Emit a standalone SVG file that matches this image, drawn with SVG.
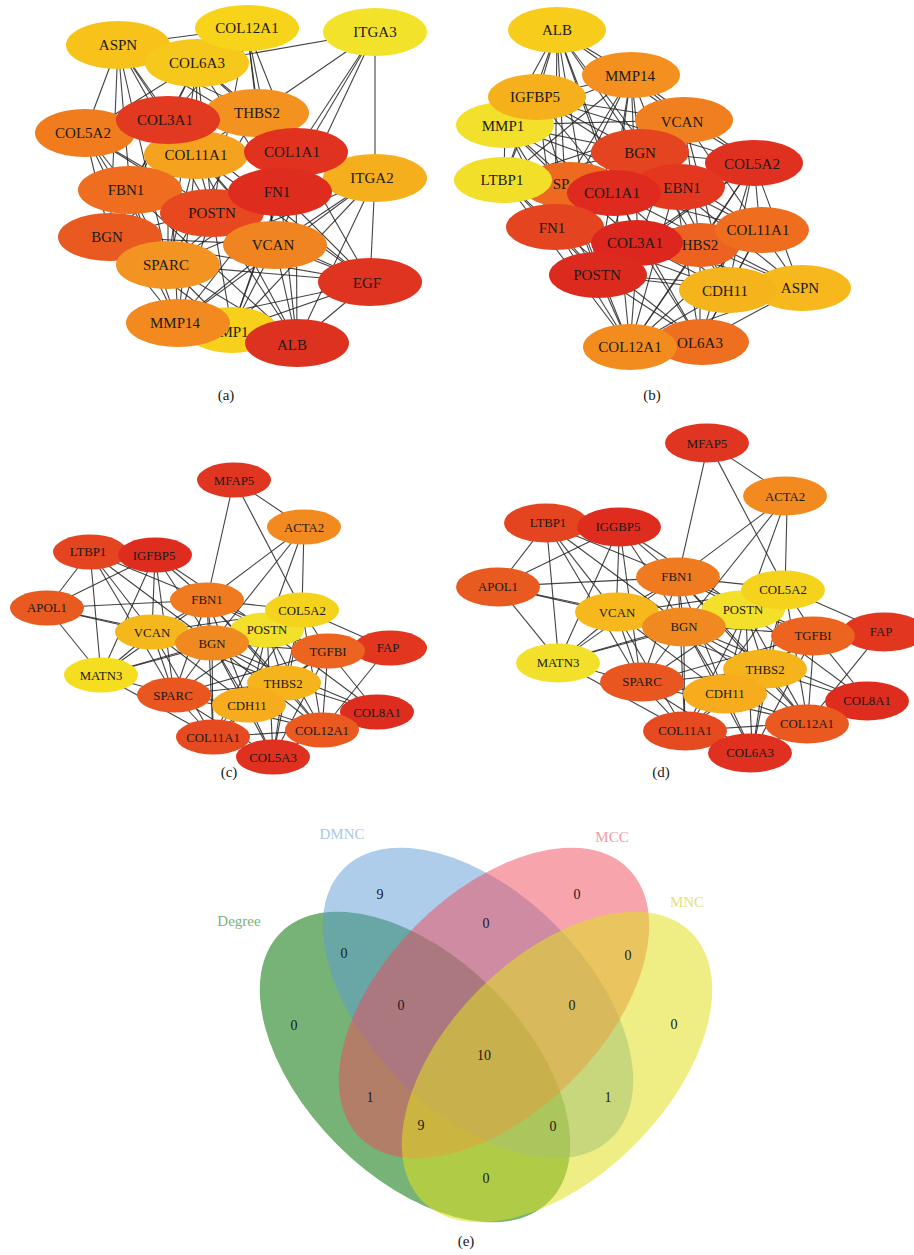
<svg xmlns="http://www.w3.org/2000/svg" xmlns:xlink="http://www.w3.org/1999/xlink" width="914" height="1255" viewBox="0 0 914 1255">
<style>
.ed line{stroke:#222;stroke-width:1.1;stroke-opacity:0.85;vector-effect:non-scaling-stroke}
.nd text{font-family:"Liberation Serif","Times New Roman",serif;font-size:15px;text-anchor:middle;dominant-baseline:central;fill:#1a1a1a}
.sm text{font-size:12.8px}
.lbl{font-family:"Liberation Serif","Times New Roman",serif;font-size:15px;text-anchor:middle;dominant-baseline:central;fill:#1a1a1a}
.vn{font-family:"Liberation Serif","Times New Roman",serif;font-size:14px;text-anchor:middle;dominant-baseline:central;fill:#1a1a1a}
.vl{font-family:"Liberation Serif","Times New Roman",serif;font-size:15px;text-anchor:middle;dominant-baseline:central}
</style>
<rect width="914" height="1255" fill="#ffffff"/>

<!-- ================= CONNECTORS ================= -->
<g id="connectors" class="ed">
<g id="edges-a">
<line x1="118" y1="45" x2="247" y2="28"/><line x1="118" y1="45" x2="85" y2="133"/><line x1="118" y1="45" x2="168" y2="120"/><line x1="118" y1="45" x2="196" y2="155"/><line x1="118" y1="45" x2="130" y2="190"/><line x1="118" y1="45" x2="212" y2="213"/><line x1="118" y1="45" x2="257" y2="113"/><line x1="118" y1="45" x2="296" y2="152"/><line x1="118" y1="45" x2="110" y2="237"/><line x1="118" y1="45" x2="168" y2="265"/>
<line x1="197" y1="63" x2="375" y2="32"/><line x1="247" y1="28" x2="257" y2="113"/><line x1="247" y1="28" x2="296" y2="152"/><line x1="247" y1="28" x2="280" y2="192"/><line x1="247" y1="28" x2="275" y2="245"/><line x1="247" y1="28" x2="212" y2="213"/><line x1="247" y1="28" x2="168" y2="120"/>
<line x1="375" y1="32" x2="257" y2="113"/><line x1="375" y1="32" x2="296" y2="152"/><line x1="375" y1="32" x2="280" y2="192"/><line x1="375" y1="32" x2="375" y2="178"/><line x1="375" y1="32" x2="275" y2="245"/>
<line x1="197" y1="63" x2="257" y2="113"/><line x1="197" y1="63" x2="196" y2="155"/><line x1="197" y1="63" x2="130" y2="190"/><line x1="197" y1="63" x2="212" y2="213"/><line x1="197" y1="63" x2="85" y2="133"/><line x1="197" y1="63" x2="110" y2="237"/><line x1="197" y1="63" x2="168" y2="265"/><line x1="197" y1="63" x2="280" y2="192"/><line x1="197" y1="63" x2="296" y2="152"/>
<line x1="85" y1="133" x2="130" y2="190"/><line x1="85" y1="133" x2="110" y2="237"/><line x1="85" y1="133" x2="212" y2="213"/><line x1="85" y1="133" x2="168" y2="265"/><line x1="85" y1="133" x2="178" y2="323"/><line x1="85" y1="133" x2="275" y2="245"/>
<line x1="196" y1="155" x2="212" y2="213"/><line x1="196" y1="155" x2="168" y2="265"/><line x1="196" y1="155" x2="275" y2="245"/><line x1="196" y1="155" x2="110" y2="237"/><line x1="196" y1="155" x2="178" y2="323"/>
<line x1="296" y1="152" x2="375" y2="178"/><line x1="296" y1="152" x2="370" y2="282"/><line x1="296" y1="152" x2="297" y2="343"/><line x1="296" y1="152" x2="168" y2="265"/><line x1="296" y1="152" x2="232" y2="330"/>
<line x1="375" y1="178" x2="370" y2="282"/><line x1="375" y1="178" x2="275" y2="245"/><line x1="375" y1="178" x2="297" y2="343"/><line x1="375" y1="178" x2="168" y2="265"/><line x1="375" y1="178" x2="178" y2="323"/><line x1="375" y1="178" x2="232" y2="330"/>
<line x1="130" y1="190" x2="212" y2="213"/><line x1="130" y1="190" x2="168" y2="265"/><line x1="130" y1="190" x2="275" y2="245"/><line x1="130" y1="190" x2="178" y2="323"/><line x1="130" y1="190" x2="297" y2="343"/>
<line x1="280" y1="192" x2="370" y2="282"/><line x1="280" y1="192" x2="297" y2="343"/><line x1="280" y1="192" x2="232" y2="330"/><line x1="280" y1="192" x2="168" y2="265"/><line x1="280" y1="192" x2="178" y2="323"/><line x1="280" y1="192" x2="110" y2="237"/>
<line x1="212" y1="213" x2="275" y2="245"/><line x1="212" y1="213" x2="178" y2="323"/><line x1="212" y1="213" x2="232" y2="330"/><line x1="212" y1="213" x2="297" y2="343"/><line x1="212" y1="213" x2="370" y2="282"/>
<line x1="110" y1="237" x2="168" y2="265"/><line x1="110" y1="237" x2="178" y2="323"/><line x1="110" y1="237" x2="275" y2="245"/><line x1="110" y1="237" x2="232" y2="330"/><line x1="110" y1="237" x2="370" y2="282"/>
<line x1="275" y1="245" x2="370" y2="282"/><line x1="275" y1="245" x2="178" y2="323"/><line x1="275" y1="245" x2="297" y2="343"/><line x1="275" y1="245" x2="232" y2="330"/>
<line x1="168" y1="265" x2="370" y2="282"/><line x1="168" y1="265" x2="232" y2="330"/><line x1="168" y1="265" x2="297" y2="343"/>
<line x1="370" y1="282" x2="178" y2="323"/><line x1="370" y1="282" x2="297" y2="343"/><line x1="370" y1="282" x2="232" y2="330"/>
<line x1="168" y1="120" x2="370" y2="282"/><line x1="168" y1="120" x2="275" y2="245"/><line x1="168" y1="120" x2="168" y2="265"/><line x1="168" y1="120" x2="178" y2="323"/><line x1="257" y1="113" x2="275" y2="245"/><line x1="257" y1="113" x2="168" y2="265"/><line x1="196" y1="155" x2="297" y2="343"/><line x1="168" y1="120" x2="130" y2="190"/><line x1="257" y1="113" x2="130" y2="190"/><line x1="296" y1="152" x2="212" y2="213"/><line x1="196" y1="155" x2="370" y2="282"/><line x1="212" y1="213" x2="375" y2="178"/>
</g>
<g id="edges-b">
<line x1="557" y1="30" x2="537" y2="97"/><line x1="557" y1="30" x2="505" y2="125"/><line x1="557" y1="30" x2="504" y2="180"/><line x1="557" y1="30" x2="640" y2="152"/><line x1="557" y1="30" x2="565" y2="185"/><line x1="557" y1="30" x2="615" y2="193"/><line x1="557" y1="30" x2="555" y2="227"/><line x1="557" y1="30" x2="684" y2="120"/><line x1="557" y1="30" x2="631" y2="75"/><line x1="557" y1="30" x2="598" y2="275"/><line x1="557" y1="30" x2="638" y2="243"/><line x1="557" y1="30" x2="675" y2="187"/>
<line x1="631" y1="75" x2="537" y2="97"/><line x1="631" y1="75" x2="505" y2="125"/><line x1="631" y1="75" x2="504" y2="180"/><line x1="631" y1="75" x2="640" y2="152"/><line x1="631" y1="75" x2="684" y2="120"/><line x1="631" y1="75" x2="615" y2="193"/><line x1="631" y1="75" x2="555" y2="227"/><line x1="631" y1="75" x2="638" y2="243"/><line x1="631" y1="75" x2="598" y2="275"/><line x1="631" y1="75" x2="565" y2="185"/><line x1="631" y1="75" x2="754" y2="163"/><line x1="631" y1="75" x2="675" y2="187"/>
<line x1="537" y1="97" x2="684" y2="120"/><line x1="537" y1="97" x2="640" y2="152"/><line x1="537" y1="97" x2="504" y2="180"/><line x1="537" y1="97" x2="565" y2="185"/><line x1="537" y1="97" x2="615" y2="193"/><line x1="537" y1="97" x2="555" y2="227"/><line x1="537" y1="97" x2="675" y2="187"/><line x1="537" y1="97" x2="754" y2="163"/>
<line x1="505" y1="125" x2="684" y2="120"/><line x1="505" y1="125" x2="640" y2="152"/><line x1="505" y1="125" x2="504" y2="180"/><line x1="505" y1="125" x2="555" y2="227"/><line x1="505" y1="125" x2="615" y2="193"/><line x1="505" y1="125" x2="565" y2="185"/><line x1="505" y1="125" x2="598" y2="275"/><line x1="505" y1="125" x2="638" y2="243"/><line x1="505" y1="125" x2="675" y2="187"/>
<line x1="684" y1="120" x2="640" y2="152"/><line x1="684" y1="120" x2="754" y2="163"/><line x1="684" y1="120" x2="504" y2="180"/><line x1="684" y1="120" x2="675" y2="187"/><line x1="684" y1="120" x2="760" y2="230"/><line x1="684" y1="120" x2="728" y2="290"/><line x1="684" y1="120" x2="555" y2="227"/><line x1="684" y1="120" x2="638" y2="243"/><line x1="684" y1="120" x2="700" y2="245"/>
<line x1="640" y1="152" x2="504" y2="180"/><line x1="640" y1="152" x2="754" y2="163"/><line x1="640" y1="152" x2="555" y2="227"/><line x1="640" y1="152" x2="760" y2="230"/><line x1="640" y1="152" x2="728" y2="290"/><line x1="640" y1="152" x2="598" y2="275"/>
<line x1="754" y1="163" x2="760" y2="230"/><line x1="754" y1="163" x2="728" y2="290"/><line x1="754" y1="163" x2="800" y2="288"/><line x1="754" y1="163" x2="700" y2="245"/><line x1="754" y1="163" x2="638" y2="243"/><line x1="754" y1="163" x2="598" y2="275"/><line x1="754" y1="163" x2="700" y2="342"/><line x1="754" y1="163" x2="630" y2="347"/><line x1="754" y1="163" x2="615" y2="193"/>
<line x1="504" y1="180" x2="555" y2="227"/><line x1="504" y1="180" x2="615" y2="193"/><line x1="504" y1="180" x2="598" y2="275"/><line x1="504" y1="180" x2="638" y2="243"/><line x1="504" y1="180" x2="675" y2="187"/><line x1="504" y1="180" x2="630" y2="347"/>
<line x1="615" y1="193" x2="760" y2="230"/><line x1="615" y1="193" x2="728" y2="290"/><line x1="615" y1="193" x2="630" y2="347"/><line x1="615" y1="193" x2="700" y2="342"/><line x1="615" y1="193" x2="800" y2="288"/>
<line x1="675" y1="187" x2="760" y2="230"/><line x1="675" y1="187" x2="728" y2="290"/><line x1="675" y1="187" x2="800" y2="288"/><line x1="675" y1="187" x2="630" y2="347"/><line x1="675" y1="187" x2="700" y2="342"/><line x1="675" y1="187" x2="555" y2="227"/>
<line x1="555" y1="227" x2="598" y2="275"/><line x1="555" y1="227" x2="630" y2="347"/><line x1="555" y1="227" x2="700" y2="342"/><line x1="555" y1="227" x2="728" y2="290"/><line x1="555" y1="227" x2="760" y2="230"/>
<line x1="638" y1="243" x2="630" y2="347"/><line x1="638" y1="243" x2="700" y2="342"/><line x1="638" y1="243" x2="728" y2="290"/><line x1="638" y1="243" x2="800" y2="288"/><line x1="638" y1="243" x2="760" y2="230"/>
<line x1="700" y1="245" x2="630" y2="347"/><line x1="700" y1="245" x2="700" y2="342"/><line x1="700" y1="245" x2="800" y2="288"/>
<line x1="760" y1="230" x2="728" y2="290"/><line x1="760" y1="230" x2="800" y2="288"/><line x1="760" y1="230" x2="630" y2="347"/><line x1="760" y1="230" x2="700" y2="342"/><line x1="760" y1="230" x2="598" y2="275"/>
<line x1="598" y1="275" x2="630" y2="347"/><line x1="598" y1="275" x2="700" y2="342"/><line x1="598" y1="275" x2="728" y2="290"/><line x1="598" y1="275" x2="800" y2="288"/>
<line x1="728" y1="290" x2="630" y2="347"/><line x1="728" y1="290" x2="700" y2="342"/><line x1="800" y1="288" x2="700" y2="342"/><line x1="800" y1="288" x2="630" y2="347"/><line x1="630" y1="347" x2="700" y2="342"/>
<line x1="565" y1="185" x2="598" y2="275"/><line x1="565" y1="185" x2="630" y2="347"/><line x1="565" y1="185" x2="555" y2="227"/>
</g>
<g id="edges-c">
<line x1="234" y1="480" x2="304" y2="527"/><line x1="234" y1="480" x2="207" y2="600"/><line x1="234" y1="480" x2="302" y2="610"/>
<line x1="304" y1="527" x2="207" y2="600"/><line x1="304" y1="527" x2="302" y2="610"/><line x1="304" y1="527" x2="267" y2="630"/><line x1="304" y1="527" x2="212" y2="643"/>
<line x1="90" y1="552" x2="155" y2="555"/><line x1="90" y1="552" x2="47" y2="608"/><line x1="90" y1="552" x2="101" y2="675"/><line x1="90" y1="552" x2="152" y2="632"/><line x1="90" y1="552" x2="207" y2="600"/><line x1="90" y1="552" x2="212" y2="643"/><line x1="90" y1="552" x2="174" y2="695"/>
<line x1="155" y1="555" x2="47" y2="608"/><line x1="155" y1="555" x2="101" y2="675"/><line x1="155" y1="555" x2="152" y2="632"/><line x1="155" y1="555" x2="207" y2="600"/><line x1="155" y1="555" x2="212" y2="643"/><line x1="155" y1="555" x2="174" y2="695"/><line x1="155" y1="555" x2="267" y2="630"/>
<line x1="47" y1="608" x2="207" y2="600"/><line x1="47" y1="608" x2="152" y2="632"/><line x1="47" y1="608" x2="101" y2="675"/><line x1="47" y1="608" x2="212" y2="643"/>
<line x1="207" y1="600" x2="302" y2="610"/><line x1="207" y1="600" x2="267" y2="630"/><line x1="207" y1="600" x2="212" y2="643"/><line x1="207" y1="600" x2="152" y2="632"/><line x1="207" y1="600" x2="174" y2="695"/><line x1="207" y1="600" x2="284" y2="683"/><line x1="207" y1="600" x2="249" y2="705"/><line x1="207" y1="600" x2="213" y2="737"/><line x1="207" y1="600" x2="322" y2="730"/><line x1="207" y1="600" x2="328" y2="651"/><line x1="207" y1="600" x2="101" y2="675"/>
<line x1="302" y1="610" x2="388" y2="648"/><line x1="302" y1="610" x2="328" y2="651"/><line x1="302" y1="610" x2="284" y2="683"/><line x1="302" y1="610" x2="322" y2="730"/><line x1="302" y1="610" x2="213" y2="737"/><line x1="302" y1="610" x2="273" y2="757"/><line x1="302" y1="610" x2="152" y2="632"/><line x1="302" y1="610" x2="212" y2="643"/>
<line x1="267" y1="630" x2="152" y2="632"/><line x1="267" y1="630" x2="212" y2="643"/><line x1="267" y1="630" x2="328" y2="651"/><line x1="267" y1="630" x2="284" y2="683"/><line x1="267" y1="630" x2="249" y2="705"/><line x1="267" y1="630" x2="213" y2="737"/><line x1="267" y1="630" x2="322" y2="730"/><line x1="267" y1="630" x2="273" y2="757"/><line x1="267" y1="630" x2="174" y2="695"/><line x1="267" y1="630" x2="101" y2="675"/><line x1="267" y1="630" x2="377" y2="712"/>
<line x1="152" y1="632" x2="212" y2="643"/><line x1="152" y1="632" x2="101" y2="675"/><line x1="152" y1="632" x2="174" y2="695"/><line x1="152" y1="632" x2="213" y2="737"/><line x1="152" y1="632" x2="249" y2="705"/><line x1="152" y1="632" x2="284" y2="683"/>
<line x1="212" y1="643" x2="101" y2="675"/><line x1="212" y1="643" x2="174" y2="695"/><line x1="212" y1="643" x2="249" y2="705"/><line x1="212" y1="643" x2="284" y2="683"/><line x1="212" y1="643" x2="328" y2="651"/><line x1="212" y1="643" x2="213" y2="737"/><line x1="212" y1="643" x2="322" y2="730"/><line x1="212" y1="643" x2="273" y2="757"/><line x1="212" y1="643" x2="377" y2="712"/>
<line x1="328" y1="651" x2="388" y2="648"/><line x1="328" y1="651" x2="284" y2="683"/><line x1="328" y1="651" x2="322" y2="730"/><line x1="328" y1="651" x2="377" y2="712"/><line x1="328" y1="651" x2="273" y2="757"/><line x1="328" y1="651" x2="174" y2="695"/><line x1="328" y1="651" x2="249" y2="705"/>
<line x1="388" y1="648" x2="322" y2="730"/><line x1="101" y1="675" x2="174" y2="695"/><line x1="101" y1="675" x2="213" y2="737"/>
<line x1="284" y1="683" x2="249" y2="705"/><line x1="284" y1="683" x2="174" y2="695"/><line x1="284" y1="683" x2="213" y2="737"/><line x1="284" y1="683" x2="322" y2="730"/><line x1="284" y1="683" x2="273" y2="757"/><line x1="284" y1="683" x2="377" y2="712"/>
<line x1="174" y1="695" x2="249" y2="705"/><line x1="174" y1="695" x2="213" y2="737"/><line x1="174" y1="695" x2="273" y2="757"/><line x1="174" y1="695" x2="322" y2="730"/>
<line x1="249" y1="705" x2="213" y2="737"/><line x1="249" y1="705" x2="322" y2="730"/><line x1="249" y1="705" x2="273" y2="757"/>
<line x1="213" y1="737" x2="322" y2="730"/><line x1="213" y1="737" x2="273" y2="757"/><line x1="322" y1="730" x2="273" y2="757"/><line x1="322" y1="730" x2="377" y2="712"/>
</g>
<g id="edges-d">
<use xlink:href="#edges-c" href="#edges-c" transform="matrix(1.126 0 0 1.119 445 -94)"/>
</g>
</g>

<!-- ================= PANEL A NODES ================= -->
<g id="panel-a" class="nd">
<g id="a-ASPN"><ellipse cx="118" cy="45" rx="52" ry="24" fill="#f7c21a"/><text x="118" y="45">ASPN</text></g>
<g id="a-COL6A3"><ellipse cx="197" cy="63" rx="52" ry="24" fill="#f7c81c"/><text x="197" y="63">COL6A3</text></g>
<g id="a-COL12A1"><ellipse cx="247" cy="28" rx="52" ry="23" fill="#f7d41a"/><text x="247" y="28">COL12A1</text></g>
<g id="a-ITGA3"><ellipse cx="375" cy="32" rx="52" ry="24" fill="#f2e22a"/><text x="375" y="32">ITGA3</text></g>
<g id="a-THBS2"><ellipse cx="257" cy="113" rx="52" ry="24" fill="#f3921f"/><text x="257" y="113">THBS2</text></g>
<g id="a-COL5A2"><ellipse cx="85" cy="133" rx="50" ry="24" fill="#f07c1e"/><text x="83" y="133">COL5A2</text></g>
<g id="a-COL11A1"><ellipse cx="196" cy="155" rx="52" ry="24" fill="#f5a21e"/><text x="196" y="155">COL11A1</text></g>
<g id="a-COL3A1"><ellipse cx="168" cy="120" rx="52" ry="24" fill="#e23a20"/><text x="165" y="120">COL3A1</text></g>
<g id="a-ITGA2"><ellipse cx="375" cy="178" rx="52" ry="24" fill="#f5ae1c"/><text x="372" y="178">ITGA2</text></g>
<g id="a-COL1A1"><ellipse cx="296" cy="152" rx="52" ry="24" fill="#e0321f"/><text x="292" y="152">COL1A1</text></g>
<g id="a-FBN1"><ellipse cx="130" cy="190" rx="52" ry="24" fill="#ef6d1f"/><text x="126" y="190">FBN1</text></g>
<g id="a-BGN"><ellipse cx="110" cy="237" rx="52" ry="24" fill="#e95a20"/><text x="107" y="237">BGN</text></g>
<g id="a-POSTN"><ellipse cx="212" cy="213" rx="52" ry="24" fill="#e8481f"/><text x="212" y="213">POSTN</text></g>
<g id="a-FN1"><ellipse cx="280" cy="192" rx="52" ry="24" fill="#de2d1f"/><text x="277" y="192">FN1</text></g>
<g id="a-VCAN"><ellipse cx="275" cy="245" rx="52" ry="24" fill="#f08420"/><text x="273" y="245">VCAN</text></g>
<g id="a-SPARC"><ellipse cx="168" cy="265" rx="52" ry="24" fill="#f39322"/><text x="166" y="265">SPARC</text></g>
<g id="a-EGF"><ellipse cx="370" cy="282" rx="52" ry="24" fill="#df341f"/><text x="367" y="283">EGF</text></g>
<g id="a-MMP1"><ellipse cx="232" cy="330" rx="46" ry="23" fill="#f6d01a"/><text x="234" y="332">MP1</text></g>
<g id="a-MMP14"><ellipse cx="178" cy="323" rx="52" ry="24" fill="#f28a20"/><text x="175" y="323">MMP14</text></g>
<g id="a-ALB"><ellipse cx="297" cy="343" rx="52" ry="24" fill="#dd321f"/><text x="292" y="345">ALB</text></g>
</g>

<!-- ================= PANEL B NODES ================= -->
<g id="panel-b" class="nd">
<g id="b-ALB"><ellipse cx="557" cy="30" rx="49" ry="23" fill="#f7cc1a"/><text x="557" y="30">ALB</text></g>
<g id="b-MMP14"><ellipse cx="631" cy="75" rx="49" ry="23" fill="#f3901f"/><text x="630" y="76">MMP14</text></g>
<g id="b-MMP1"><ellipse cx="505" cy="125" rx="49" ry="23" fill="#f2e02a"/><text x="503" y="126">MMP1</text></g>
<g id="b-IGFBP5"><ellipse cx="537" cy="97" rx="49" ry="23" fill="#f5b01c"/><text x="535" y="97">IGFBP5</text></g>
<g id="b-VCAN"><ellipse cx="684" cy="120" rx="49" ry="23" fill="#f0801f"/><text x="682" y="122">VCAN</text></g>
<g id="b-BGN"><ellipse cx="640" cy="152" rx="49" ry="23" fill="#e54420"/><text x="640" y="153">BGN</text></g>
<g id="b-COL5A2"><ellipse cx="754" cy="163" rx="49" ry="23" fill="#e0301f"/><text x="752" y="164">COL5A2</text></g>
<g id="b-SPARC"><ellipse cx="570" cy="185" rx="49" ry="23" fill="#ee6a1f"/><text x="561" y="184">SP</text></g>
<g id="b-LTBP1"><ellipse cx="503" cy="180" rx="49" ry="23" fill="#f2df2a"/><text x="502" y="180">LTBP1</text></g>
<g id="b-FBN1"><ellipse cx="679" cy="187" rx="46" ry="23" fill="#e4371f"/><text x="682" y="188">EBN1</text></g>
<g id="b-COL1A1"><ellipse cx="614" cy="193" rx="47" ry="23" fill="#de2a1f"/><text x="612" y="193">COL1A1</text></g>
<g id="b-FN1"><ellipse cx="555" cy="227" rx="49" ry="23" fill="#e4441f"/><text x="552" y="228">FN1</text></g>
<g id="b-THBS2"><ellipse cx="700" cy="245" rx="40" ry="22" fill="#ed6220"/><text x="700" y="245">HBS2</text></g>
<g id="b-COL11A1"><ellipse cx="762" cy="230" rx="47" ry="23" fill="#ee6d1f"/><text x="758" y="230">COL11A1</text></g>
<g id="b-COL3A1"><ellipse cx="637" cy="243" rx="46" ry="23" fill="#dc261e"/><text x="635" y="243">COL3A1</text></g>
<g id="b-POSTN"><ellipse cx="598" cy="275" rx="49" ry="23" fill="#dc2a1f"/><text x="597" y="275">POSTN</text></g>
<g id="b-ASPN"><ellipse cx="802" cy="288" rx="49" ry="23" fill="#f6b81c"/><text x="800" y="288">ASPN</text></g>
<g id="b-CDH11"><ellipse cx="728" cy="290" rx="49" ry="23" fill="#f6b41c"/><text x="725" y="291">CDH11</text></g>
<g id="b-COL6A3"><ellipse cx="702" cy="342" rx="47" ry="23" fill="#ee6f1f"/><text x="700" y="343">OL6A3</text></g>
<g id="b-COL12A1"><ellipse cx="630" cy="347" rx="47" ry="23" fill="#f28c1f"/><text x="630" y="347">COL12A1</text></g>
</g>

<!-- ================= PANEL C NODES ================= -->
<g id="panel-c" class="nd sm">
<g id="c-MFAP5"><ellipse cx="234" cy="480" rx="37" ry="17.5" fill="#e03520"/><text x="234" y="481">MFAP5</text></g>
<g id="c-ACTA2"><ellipse cx="304" cy="527" rx="37" ry="17.5" fill="#f28a20"/><text x="304" y="528">ACTA2</text></g>
<g id="c-LTBP1"><ellipse cx="90" cy="552" rx="37" ry="17.5" fill="#e4441f"/><text x="88" y="552">LTBP1</text></g>
<g id="c-IGFBP5"><ellipse cx="155" cy="555" rx="37" ry="17.5" fill="#de2d1f"/><text x="154" y="556">IGFBP5</text></g>
<g id="c-APOL1"><ellipse cx="47" cy="608" rx="37" ry="17.5" fill="#e85a20"/><text x="47" y="608">APOL1</text></g>
<g id="c-FBN1"><ellipse cx="207" cy="600" rx="37" ry="17.5" fill="#ef7a1f"/><text x="207" y="600">FBN1</text></g>
<g id="c-POSTN"><ellipse cx="267" cy="630" rx="37" ry="17.5" fill="#f2e02a"/><text x="267" y="630">POSTN</text></g>
<g id="c-COL5A2"><ellipse cx="302" cy="610" rx="37" ry="17.5" fill="#f5d21c"/><text x="302" y="611">COL5A2</text></g>
<g id="c-VCAN"><ellipse cx="152" cy="632" rx="37" ry="17.5" fill="#f5b81c"/><text x="152" y="633">VCAN</text></g>
<g id="c-BGN"><ellipse cx="212" cy="643" rx="37" ry="17.5" fill="#f08a20"/><text x="212" y="644">BGN</text></g>
<g id="c-FAP"><ellipse cx="390" cy="648" rx="37" ry="17.5" fill="#e2361f"/><text x="388" y="648">FAP</text></g>
<g id="c-TGFBI"><ellipse cx="328" cy="651" rx="37" ry="17.5" fill="#ec6420"/><text x="328" y="652">TGFBI</text></g>
<g id="c-MATN3"><ellipse cx="101" cy="675" rx="37" ry="17.5" fill="#f5dd20"/><text x="101" y="676">MATN3</text></g>
<g id="c-SPARC"><ellipse cx="174" cy="695" rx="37" ry="17.5" fill="#e9561f"/><text x="173" y="696">SPARC</text></g>
<g id="c-THBS2"><ellipse cx="284" cy="683" rx="37" ry="17.5" fill="#f6b41c"/><text x="283" y="684">THBS2</text></g>
<g id="c-CDH11"><ellipse cx="249" cy="705" rx="37" ry="17.5" fill="#f6ac1c"/><text x="247" y="706">CDH11</text></g>
<g id="c-COL8A1"><ellipse cx="377" cy="712" rx="37" ry="17.5" fill="#de2c1f"/><text x="377" y="713">COL8A1</text></g>
<g id="c-COL12A1"><ellipse cx="322" cy="730" rx="37" ry="17.5" fill="#ea5a20"/><text x="322" y="731">COL12A1</text></g>
<g id="c-COL11A1"><ellipse cx="213" cy="737" rx="37" ry="17.5" fill="#e64a20"/><text x="213" y="738">COL11A1</text></g>
<g id="c-COL5A3"><ellipse cx="273" cy="757" rx="37" ry="17.5" fill="#e0301f"/><text x="273" y="758">COL5A3</text></g>
</g>

<!-- ================= PANEL D NODES ================= -->
<g id="panel-d" class="nd sm">
<g id="d-MFAP5"><ellipse cx="707" cy="443" rx="42" ry="19.5" fill="#e03520"/><text x="707" y="444">MFAP5</text></g>
<g id="d-ACTA2"><ellipse cx="785" cy="496" rx="42" ry="19.5" fill="#f28a20"/><text x="785" y="497">ACTA2</text></g>
<g id="d-LTBP1"><ellipse cx="546" cy="523" rx="42" ry="19.5" fill="#e4441f"/><text x="548" y="523">LTBP1</text></g>
<g id="d-IGGBP5"><ellipse cx="619" cy="527" rx="42" ry="19.5" fill="#de2d1f"/><text x="618" y="527">IGGBP5</text></g>
<g id="d-APOL1"><ellipse cx="498" cy="587" rx="42" ry="19.5" fill="#e85a20"/><text x="498" y="587">APOL1</text></g>
<g id="d-FBN1"><ellipse cx="678" cy="577" rx="42" ry="19.5" fill="#ef7a1f"/><text x="677" y="577">FBN1</text></g>
<g id="d-POSTN"><ellipse cx="743" cy="610" rx="42" ry="19.5" fill="#f2e02a"/><text x="743" y="610">POSTN</text></g>
<g id="d-COL5A2"><ellipse cx="783" cy="590" rx="42" ry="19.5" fill="#f5d21c"/><text x="783" y="590">COL5A2</text></g>
<g id="d-VCAN"><ellipse cx="617" cy="612" rx="42" ry="19.5" fill="#f6b81c"/><text x="617" y="613">VCAN</text></g>
<g id="d-BGN"><ellipse cx="684" cy="627" rx="42" ry="19.5" fill="#f08a20"/><text x="684" y="627">BGN</text></g>
<g id="d-FAP"><ellipse cx="884" cy="632" rx="42" ry="19.5" fill="#e2361f"/><text x="881" y="632">FAP</text></g>
<g id="d-TGFBI"><ellipse cx="813" cy="636" rx="42" ry="19.5" fill="#ec6420"/><text x="813" y="636">TGFBI</text></g>
<g id="d-MATN3"><ellipse cx="558" cy="663" rx="42" ry="19.5" fill="#f2e02a"/><text x="558" y="663">MATN3</text></g>
<g id="d-SPARC"><ellipse cx="642" cy="682" rx="42" ry="19.5" fill="#e9561f"/><text x="642" y="682">SPARC</text></g>
<g id="d-THBS2"><ellipse cx="765" cy="669" rx="42" ry="19.5" fill="#f6b41c"/><text x="765" y="670">THBS2</text></g>
<g id="d-CDH11"><ellipse cx="725" cy="694" rx="42" ry="19.5" fill="#f6ac1c"/><text x="725" y="694">CDH11</text></g>
<g id="d-COL8A1"><ellipse cx="867" cy="701" rx="42" ry="19.5" fill="#de2c1f"/><text x="867" y="701">COL8A1</text></g>
<g id="d-COL12A1"><ellipse cx="807" cy="724" rx="42" ry="19.5" fill="#ea5a20"/><text x="807" y="724">COL12A1</text></g>
<g id="d-COL11A1"><ellipse cx="685" cy="731" rx="42" ry="19.5" fill="#e64a20"/><text x="685" y="731">COL11A1</text></g>
<g id="d-COL6A3"><ellipse cx="750" cy="753" rx="42" ry="19.5" fill="#e0301f"/><text x="750" y="753">COL6A3</text></g>
</g>

<!-- ================= PANEL LABELS ================= -->
<text class="lbl" x="226" y="395">(a)</text>
<text class="lbl" x="652" y="395">(b)</text>
<text class="lbl" x="229" y="772">(c)</text>
<text class="lbl" x="661" y="772">(d)</text>

<!-- ================= VENN (e) ================= -->
<g id="venn">
<ellipse id="set-degree" cx="415" cy="1067" rx="190" ry="110" transform="rotate(45 415 1067)" fill="#2e8b2e" fill-opacity="0.65"/>
<ellipse id="set-dmnc" cx="478" cy="1003" rx="190" ry="110" transform="rotate(45 478 1003)" fill="#5b9bd5" fill-opacity="0.5"/>
<ellipse id="set-mcc" cx="494" cy="1003" rx="190" ry="110" transform="rotate(-45 494 1003)" fill="#f04a5a" fill-opacity="0.5"/>
<ellipse id="set-mnc" cx="557" cy="1067" rx="190" ry="110" transform="rotate(-45 557 1067)" fill="#e0e020" fill-opacity="0.55"/>
<text class="vl" x="342" y="834" fill="#a8c8e8">DMNC</text>
<text class="vl" x="612" y="837" fill="#f29aa3">MCC</text>
<text class="vl" x="687" y="902" fill="#e2e27a">MNC</text>
<text class="vl" x="239" y="921" fill="#78b478">Degree</text>
<text class="vn" x="380" y="894">9</text>
<text class="vn" x="577" y="894">0</text>
<text class="vn" x="486" y="923">0</text>
<text class="vn" x="344" y="953">0</text>
<text class="vn" x="628" y="955">0</text>
<text class="vn" x="294" y="1025">0</text>
<text class="vn" x="401" y="1005">0</text>
<text class="vn" x="572" y="1005">0</text>
<text class="vn" x="674" y="1024">0</text>
<text class="vn" x="484" y="1055">10</text>
<text class="vn" x="370" y="1097">1</text>
<text class="vn" x="608" y="1097">1</text>
<text class="vn" x="421" y="1125">9</text>
<text class="vn" x="553" y="1126">0</text>
<text class="vn" x="486" y="1178">0</text>
</g>
<text class="lbl" x="466" y="1241">(e)</text>
</svg>
